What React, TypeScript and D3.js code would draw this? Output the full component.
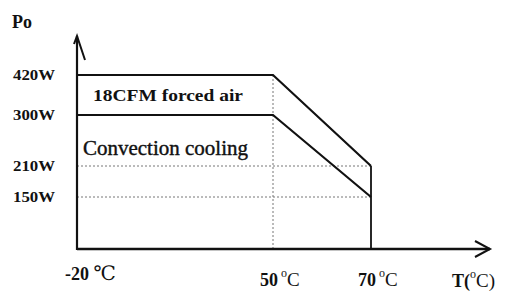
import React from "react";
import * as d3 from "d3";

const tempStops = [-20, 50, 70, 85];
const powerStops = [0, 150, 210, 300, 420, 510];
const yTicks = [150, 210, 300, 420];
const yTickLabels = ["150W", "210W", "300W", "420W"];
const xTicks = [-20, 50, 70];
const forcedAir = [
  { t: -20, p: 420 },
  { t: 50, p: 420 },
  { t: 70, p: 210 },
];
const convection = [
  { t: -20, p: 300 },
  { t: 50, p: 300 },
  { t: 70, p: 150 },
];

export default function App() {
  const W = 510, H = 293;
  const x = d3.scaleLinear().domain(tempStops).range([77, 273, 371, 490]);
  const y = d3.scaleLinear().domain(powerStops).range([249, 197, 166, 115, 75, 36]);
  const line = d3
    .line<{ t: number; p: number }>()
    .x((d) => x(d.t))
    .y((d) => y(d.p));
  const font = "'Liberation Serif', 'DejaVu Serif', serif";
  const x0 = x(-20), yb = y(0);
  const xEnd = x(85), yTop = y(510);
  return (
    <svg width={W} height={H} style={{ position: "absolute", left: 0, top: 0, background: "#fff" }}>
      <rect width={W} height={H} fill="#fff" />
      {/* dotted guides */}
      {[210, 150].map((v) => (
        <line key={v} x1={x0} x2={x(70)} y1={y(v)} y2={y(v)} stroke="#777" strokeWidth={1} strokeDasharray="2,2" />
      ))}
      <line x1={x(50)} x2={x(50)} y1={y(420)} y2={yb} stroke="#777" strokeWidth={1} strokeDasharray="2,2" />
      {/* series */}
      <path d={line(forcedAir) || ""} fill="none" stroke="#111" strokeWidth={2.2} />
      <path d={line(convection) || ""} fill="none" stroke="#111" strokeWidth={2.2} />
      <line x1={x(70)} x2={x(70)} y1={y(210)} y2={yb} stroke="#111" strokeWidth={1.8} />
      {/* axes */}
      <line x1={x0} x2={x0} y1={yb + 1} y2={yTop} stroke="#111" strokeWidth={2.2} />
      <path d={`M${x0 - 3},${yTop + 8} L${x0},${yTop} L${x0 + 8},${yTop + 24}`} fill="none" stroke="#111" strokeWidth={2} />
      <line x1={x0} x2={xEnd} y1={yb} y2={yb} stroke="#111" strokeWidth={2.4} />
      <path d={`M${xEnd - 15},${yb - 8} L${xEnd},${yb} L${xEnd - 15},${yb + 8}`} fill="none" stroke="#111" strokeWidth={2} />
      {/* y tick labels */}
      {yTicks.map((v, i) => (
        <text key={v} x={13} y={y(v) + 5} fontFamily={font} fontWeight="bold" fontSize={15} textLength={42} lengthAdjust="spacingAndGlyphs" fill="#111">
          {yTickLabels[i]}
        </text>
      ))}
      <text x={12} y={28} fontFamily={font} fontWeight="bold" fontSize={18} fill="#111">Po</text>
      {/* x tick labels */}
      <text x={65} y={280} fontFamily={font} fontWeight="bold" fontSize={18} fill="#111">
        -20 <tspan fontWeight="normal" fontSize={20}>℃</tspan>
      </text>
      {xTicks.slice(1).map((v) => (
        <text key={v} x={x(v) - 13} y={286} fontFamily={font} fontWeight="bold" fontSize={18} fill="#111">
          {v}
          <tspan dx={3} dy={-9} fontWeight="normal" fontSize={12}>o</tspan>
          <tspan dy={9} fontWeight="normal" fontSize={19}>C</tspan>
        </text>
      ))}
      <text x={452} y={287} fontFamily={font} fontWeight="bold" fontSize={18} fill="#111">
        T(<tspan dy={-9} fontWeight="normal" fontSize={12}>o</tspan><tspan dy={9} fontWeight="normal" fontSize={19}>C)</tspan>
      </text>
      {/* series labels */}
      <text x={93} y={101} fontFamily={font} fontWeight="bold" fontSize={17} textLength={150} lengthAdjust="spacingAndGlyphs" fill="#111">
        18CFM forced air
      </text>
      <text x={83} y={155} fontFamily={font} fontSize={20} textLength={165} lengthAdjust="spacingAndGlyphs" fill="#111" stroke="#111" strokeWidth={0.4}>
        Convection cooling
      </text>
    </svg>
  );
}
